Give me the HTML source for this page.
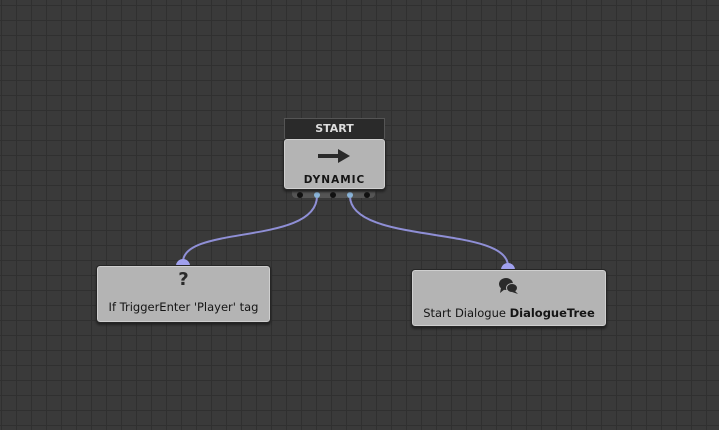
<!DOCTYPE html><html><head><style>
body{margin:0;width:719px;height:430px;overflow:hidden;background:#3a3a3a;
background-image:linear-gradient(90deg,#303030 1px,transparent 1px),linear-gradient(#303030 1px,transparent 1px);
background-size:15px 15px;background-position:1px 5px;font-family:"DejaVu Sans","Liberation Sans",sans-serif;position:relative}
.n{position:absolute;background:#b4b4b4;border:1px solid #262626;border-radius:4px;box-shadow:inset 0 0 0 1px #cfcfcf,0 2px 2px #222;color:#151515;text-align:center}
</style></head><body>
<svg width="719" height="430" style="position:absolute;left:0;top:0">
<path d="M317 196 C317 245,183 225,183 262" stroke="#8f8fd6" stroke-width="2" fill="none"/>
<path d="M350 196 C350 245,508 225,508 266" stroke="#8f8fd6" stroke-width="2" fill="none"/>
<path d="M176 266 a7 7 0 0 1 14 0z" fill="#a0a0ee"/>
<path d="M501 270 a7 7 0 0 1 14 0z" fill="#a0a0ee"/>
<rect x="292" y="186" width="83" height="12" rx="4" fill="#555"/>
<circle cx="300" cy="195" r="3" fill="#111"/><circle cx="317" cy="195" r="3" fill="#8ab4d8"/><circle cx="333" cy="195" r="3" fill="#111"/><circle cx="350" cy="195" r="3" fill="#8ab4d8"/><circle cx="367" cy="195" r="3" fill="#111"/>
</svg>
<div style="position:absolute;left:284px;top:118px;width:99px;height:19px;background:#2a2a2a;border:1px solid #555;color:#ddd;font-size:11px;font-weight:bold;text-align:center;line-height:19px">START</div>
<div class="n" style="left:283px;top:138px;width:101px;height:50px">
<svg width="34" height="16" style="position:absolute;left:34px;top:9px"><rect x="0" y="6" width="22" height="4" fill="#2a2a2a"/><path d="M20 1 L32 8 L20 15z" fill="#2a2a2a"/></svg>
<div style="position:absolute;left:0;right:0;top:35px;font-size:10.5px;font-weight:bold;letter-spacing:1px">DYNAMIC</div></div>
<div class="n" style="left:96px;top:265px;width:173px;height:56px">
<div style="font-size:18px;font-weight:bold;line-height:22px;margin-top:3px;color:#2a2a2a">?</div>
<div style="font-size:11.5px;margin-top:9px">If TriggerEnter 'Player' tag</div></div>
<div class="n" style="left:411px;top:269px;width:194px;height:56px">
<svg width="24" height="20" style="position:absolute;left:86px;top:6px"><ellipse cx="8" cy="8" rx="7" ry="6" fill="#2a2a2a"/><path d="M3 12 L2 17 L7 13z" fill="#2a2a2a"/><ellipse cx="14" cy="12" rx="6" ry="5" fill="#b4b4b4"/><ellipse cx="14" cy="12" rx="5" ry="4" fill="#2a2a2a"/><path d="M17 15 L20 18 L14 16z" fill="#2a2a2a"/></svg>
<div style="position:absolute;left:0;right:0;top:36px;font-size:11.5px">Start Dialogue <b>DialogueTree</b></div></div>
</body></html>
